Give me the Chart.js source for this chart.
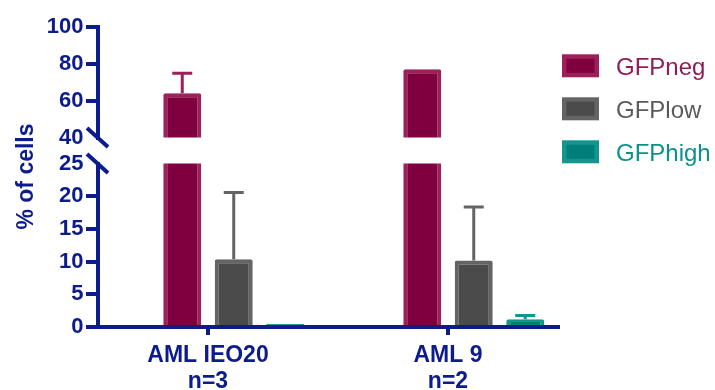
<!DOCTYPE html>
<html>
<head>
<meta charset="utf-8">
<script src="https://cdn.jsdelivr.net/npm/chart.js@4.4.1/dist/chart.umd.min.js"></script>
<style>
  html, body { margin: 0; padding: 0; background: #ffffff; }
  canvas { display: block; }
</style>
</head>
<body>
<canvas id="chart" width="715" height="390"></canvas>
<script>
// ---- data ----
const categories = [['AML IEO20', 'n=3'], ['AML 9', 'n=2']];
const seriesNames = ['GFPneg', 'GFPlow', 'GFPhigh'];
const gfpNeg = [64.0, 77.0];
const gfpLow = [10.35, 10.15];
const gfpHigh = [0.5, 1.2];
const gfpNegErr = [10.9, null];
const gfpLowErr = [10.2, 8.2];
const gfpHighErr = [null, 0.55];
const upperTicks = [40, 60, 80, 100];
const lowerTicks = [0, 5, 10, 15, 20, 25];

// ---- styles ----
const NAVY = '#0c1c8c';
const FONT = '"Liberation Sans", Arial, Helvetica, sans-serif';
const palette = {
  GFPneg:  { fill: '#80003f', edge: '#9e205b', text: '#921c56' },
  GFPlow:  { fill: '#4b4b4b', edge: '#646464', text: '#5a5a5a' },
  GFPhigh: { fill: '#007e7a', edge: '#13968f', text: '#0e8f8a' }
};

Chart.defaults.font.family = FONT;

const toPoints = arr => arr.map((v, i) => ({ x: i, y: v }));

const barStyle = name => ({
  backgroundColor: palette[name].fill,
  borderColor: palette[name].edge,
  borderWidth: 4,
  borderRadius: 2,
  borderSkipped: 'start',
  clip: 0,
  categoryPercentage: 0.858,
  barPercentage: 0.738
});

// upward error whiskers, positioned through each dataset's own y scale
const errorBars = {
  id: 'errorBars',
  afterDatasetsDraw(chart) {
    const ctx = chart.ctx;
    chart.data.datasets.forEach((ds, di) => {
      if (!ds.errors) return;
      const meta = chart.getDatasetMeta(di);
      const yScale = chart.scales[meta.yAxisID];
      meta.data.forEach((bar, i) => {
        const err = ds.errors[i];
        if (err == null) return;
        const v = ds.data[i].y;
        const yBase = yScale.getPixelForValue(v);
        const yEnd = yScale.getPixelForValue(v + err);
        ctx.save();
        ctx.strokeStyle = ds.borderColor;
        ctx.lineWidth = 3;
        ctx.beginPath();
        ctx.moveTo(bar.x, yBase);
        ctx.lineTo(bar.x, yEnd);
        ctx.moveTo(bar.x - 10, yEnd);
        ctx.lineTo(bar.x + 10, yEnd);
        ctx.stroke();
        ctx.restore();
      });
    });
  }
};

// axis break marks, y-axis title and the legend
const decorations = {
  id: 'decorations',
  afterDraw(chart) {
    const ctx = chart.ctx;
    const x = chart.chartArea.left;
    const marks = [chart.scales.yHigh.bottom, chart.scales.yLow.top];
    ctx.save();
    ctx.strokeStyle = NAVY;
    ctx.lineWidth = 4;
    marks.forEach(y => {
      ctx.beginPath();
      ctx.moveTo(x - 11, y - 9.5);
      ctx.lineTo(x + 10, y + 9.5);
      ctx.stroke();
    });

    // y-axis title
    ctx.translate(33, 176.5);
    ctx.rotate(-Math.PI / 2);
    ctx.fillStyle = NAVY;
    ctx.font = 'bold 23px ' + FONT;
    ctx.textAlign = 'center';
    ctx.textBaseline = 'alphabetic';
    ctx.fillText('% of cells', 0, 0);
    ctx.restore();

    // legend
    ctx.save();
    ctx.font = '24px ' + FONT;
    ctx.textAlign = 'left';
    ctx.textBaseline = 'alphabetic';
    seriesNames.forEach((name, i) => {
      const top = 54.3 + i * 43;
      const c = palette[name];
      ctx.fillStyle = c.edge;
      ctx.fillRect(562, top, 37, 23);
      ctx.fillStyle = c.fill;
      ctx.fillRect(566.5, top + 4.5, 28, 14);
      ctx.fillStyle = c.text;
      ctx.fillText(name, 616, top + 20.7);
    });
    ctx.restore();
  }
};

const yAxis = (tickValues, silentTick, weight, stackWeight) => ({
  type: 'linear',
  position: 'left',
  stack: 'split',
  stacked: false,
  weight: weight,
  stackWeight: stackWeight,
  beginAtZero: false,
  min: tickValues[0],
  max: tickValues[tickValues.length - 1],
  afterBuildTicks: s => { s.ticks = tickValues.map(v => ({ value: v })); },
  afterFit: s => { s.width = 98; },
  grid: {
    drawOnChartArea: false,
    color: NAVY,
    lineWidth: 4,
    tickLength: 12,
    tickWidth: 4,
    tickColor: c => (c.tick && c.tick.value === silentTick) ? 'rgba(0,0,0,0)' : NAVY
  },
  border: { display: true, color: NAVY, width: 4 },
  ticks: {
    color: NAVY,
    padding: 2.5,
    autoSkip: false,
    font: { size: 22, weight: 'bold' }
  }
});

new Chart(document.getElementById('chart'), {
  type: 'bar',
  data: {
    datasets: [
      // empty leading slot: puts each category tick between the first two bars
      { ...barStyle('GFPneg'), stack: 'lead', yAxisID: 'yLow', data: [] },
      { ...barStyle('GFPneg'), label: seriesNames[0], stack: 'neg', yAxisID: 'yHigh',
        data: toPoints(gfpNeg), errors: gfpNegErr },
      { ...barStyle('GFPneg'), label: seriesNames[0], stack: 'neg', yAxisID: 'yLow',
        data: toPoints(gfpNeg) },
      { ...barStyle('GFPlow'), label: seriesNames[1], stack: 'low', yAxisID: 'yLow',
        data: toPoints(gfpLow), errors: gfpLowErr },
      { ...barStyle('GFPhigh'), label: seriesNames[2], stack: 'high', yAxisID: 'yLow',
        data: toPoints(gfpHigh), errors: gfpHighErr }
    ]
  },
  options: {
    responsive: false,
    devicePixelRatio: 1,
    animation: false,
    layout: { padding: { top: 27, right: 157, bottom: 0, left: 0 } },
    plugins: {
      legend: { display: false },
      tooltip: { enabled: false },
      title: { display: false }
    },
    scales: {
      x: {
        type: 'linear',
        min: -0.4583,
        max: 1.4583,
        offset: false,
        afterFit: s => { s.height = 63; },
        grid: {
          drawOnChartArea: false,
          offset: false,
          color: NAVY,
          lineWidth: 4,
          tickLength: 8,
          tickWidth: 4,
          tickColor: NAVY
        },
        border: { display: true, color: NAVY, width: 4, z: 1 },
        ticks: {
          stepSize: 1,
          includeBounds: false,
          autoSkip: false,
          maxRotation: 0,
          minRotation: 0,
          padding: 7,
          color: NAVY,
          font: { size: 23, weight: 'bold', lineHeight: 1.15 },
          callback: v => categories[v] || ''
        }
      },
      yHigh: yAxis(upperTicks, 40, 3, 110.5),
      yGap: {
        type: 'linear', position: 'left', stack: 'split', display: false,
        weight: 2, stackWeight: 26, min: 0, max: 1
      },
      yLow: yAxis(lowerTicks, 25, 1, 163.5)
    }
  },
  plugins: [errorBars, decorations]
});
</script>
</body>
</html>
